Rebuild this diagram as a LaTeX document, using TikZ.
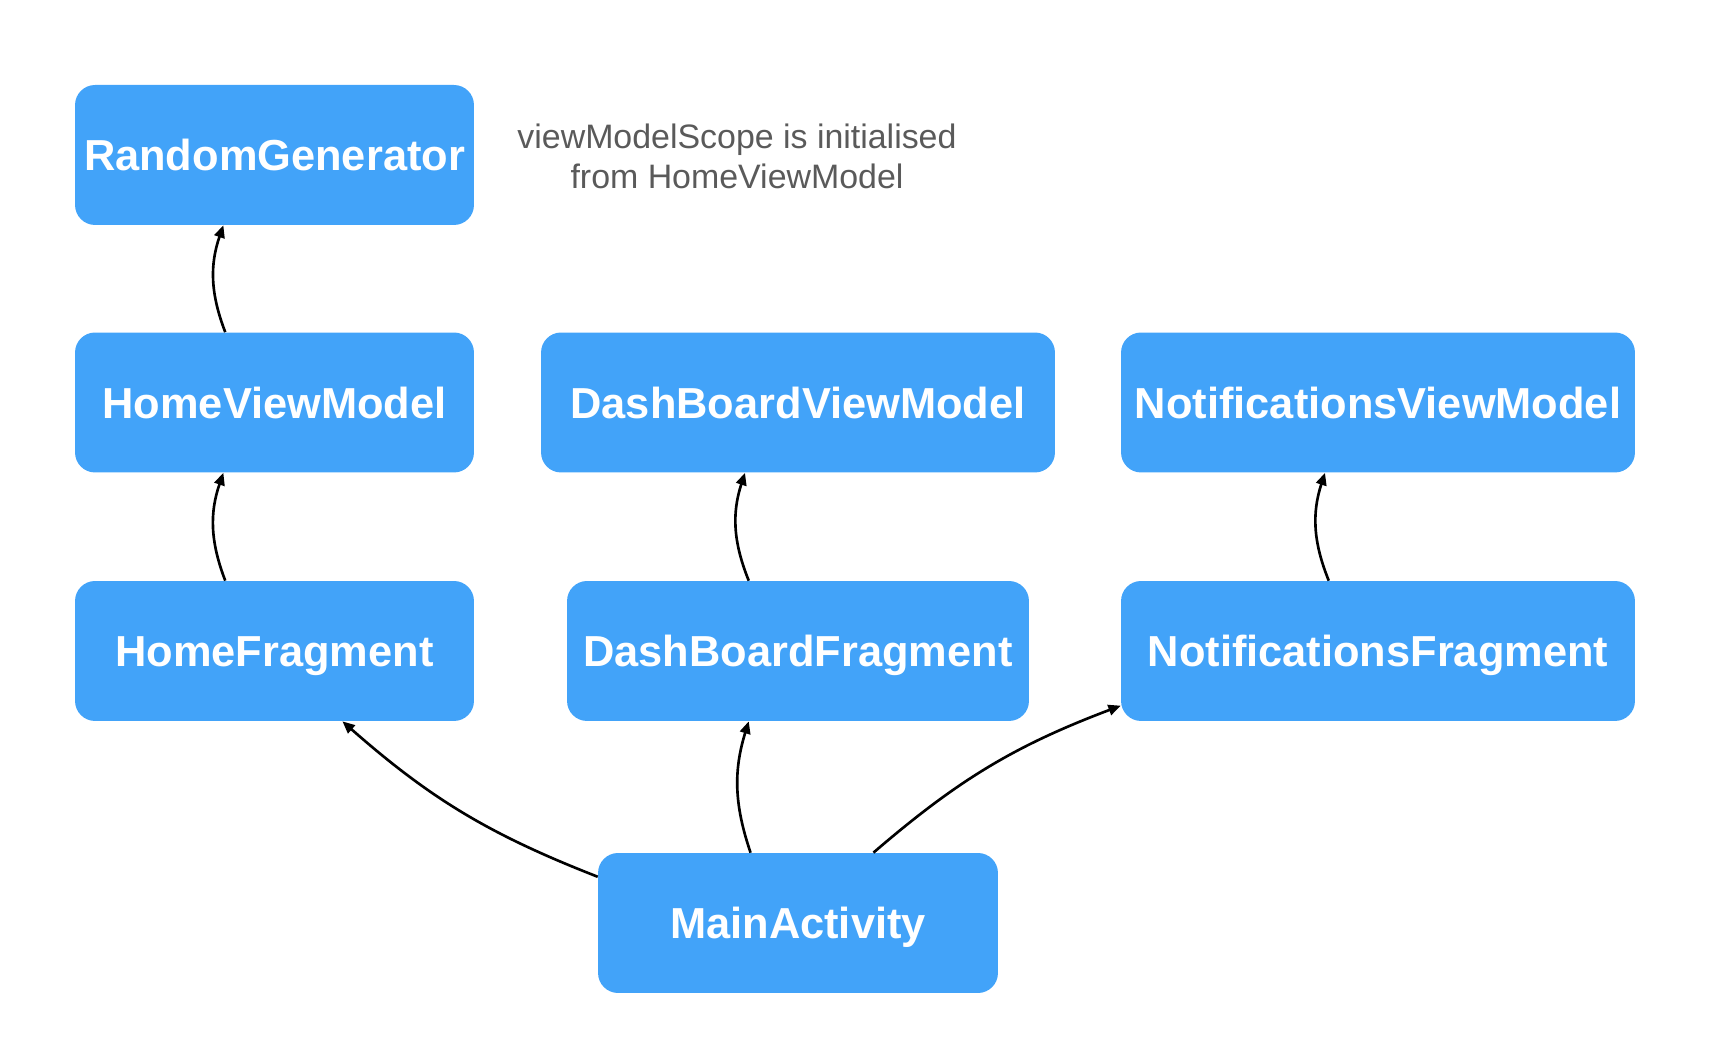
\documentclass[tikz,border=0pt]{standalone}
\usepackage{fontspec}
\setmainfont{Liberation Sans}
\usepackage{tikz}
\usetikzlibrary{arrows.meta}
\definecolor{boxcolor}{HTML}{42A3F9}
\definecolor{notecolor}{HTML}{5A5A5A}

\begin{document}
\begin{tikzpicture}[x=0.02cm, y=0.02cm,
    box/.style={rectangle, rounded corners=0.4cm, fill=boxcolor, draw=none, text=white,
        minimum height=2.8cm, inner sep=0pt, text height=17.8pt, text depth=0pt,
        font=\fontsize{24.7}{30}\selectfont\bfseries},
    smallbox/.style={box, minimum width=7.98cm},
    widebox/.style={box, minimum width=10.28cm},
    arrow/.style={-{Triangle[length=7pt, width=6pt]}, line width=1.5pt, black}
]
    \useasboundingbox (0, 0) rectangle (1720, 1064);

    % === LEFT COLUMN ===
    \node[smallbox] (randgen) at (274.5, 909) {RandomGenerator};
    \node[smallbox] (homevm) at (274.5, 661.5) {HomeViewModel};
    \node[smallbox] (homefrag) at (274.5, 413) {HomeFragment};

    % === NOTE ===
    \node[font=\fontsize{19.3}{22.7}\selectfont, text=notecolor, align=center] (note) at (737, 908)
        {viewModelScope is initialised\\from HomeViewModel};

    % === MIDDLE COLUMN ===
    \node[widebox] (dashvm) at (798, 661.5) {DashBoardViewModel};
    \node[box, minimum width=9.24cm] (dashfrag) at (798, 413) {DashBoardFragment};

    % === RIGHT COLUMN ===
    \node[widebox] (notifvm) at (1378, 661.5) {NotificationsViewModel};
    \node[widebox] (notiffrag) at (1378, 413) {NotificationsFragment};

    % === ACTIVITY ===
    \node[box, minimum width=8cm] (mainact) at (798, 141) {MainActivity};

    % === ARROWS ===
    \draw[arrow] (homevm.125) to[bend left=20] (randgen.234);
    \draw[arrow] (homefrag.125) to[bend left=20] (homevm.234);
    \draw[arrow] (dashfrag.125) to[bend left=20] (dashvm.233);
    \draw[arrow] (notiffrag.125) to[bend left=20] (notifvm.233);
    \draw[arrow] (mainact.124) to[bend left=18] (dashfrag.235);
    \draw[arrow] (mainact.167) to[bend left=10] (homefrag.314);
    \draw[arrow] (mainact.43) to[bend left=10] (notiffrag.192);

\end{tikzpicture}
\end{document}
